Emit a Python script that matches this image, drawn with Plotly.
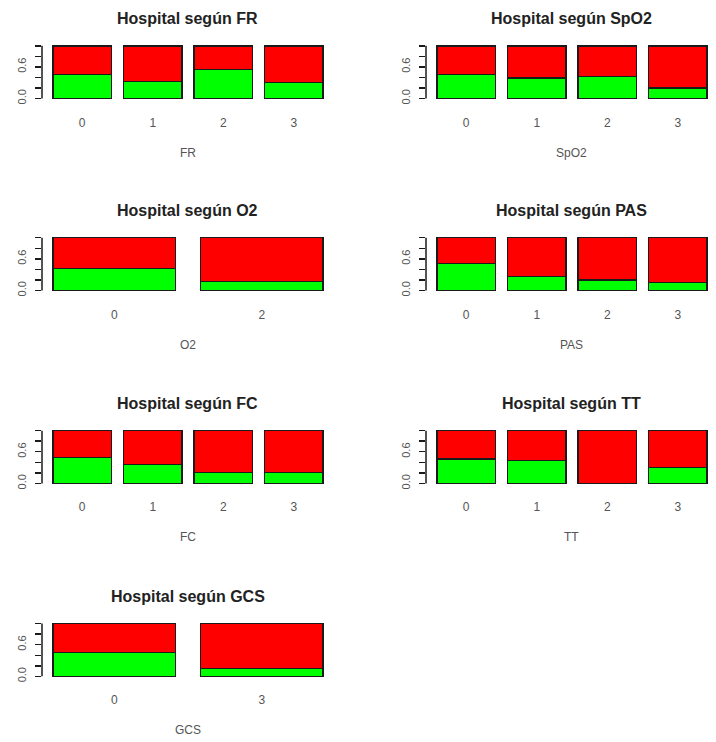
import plotly.graph_objects as go

# ---------------- data (proportions) ----------------
fr_cats = ["0", "1", "2", "3"]
fr_green = [0.45, 0.32, 0.55, 0.30]
fr_red = [0.55, 0.68, 0.45, 0.70]

spo2_cats = ["0", "1", "2", "3"]
spo2_green = [0.45, 0.39, 0.42, 0.20]
spo2_red = [0.55, 0.61, 0.58, 0.80]

o2_cats = ["0", "2"]
o2_green = [0.42, 0.17]
o2_red = [0.58, 0.83]

pas_cats = ["0", "1", "2", "3"]
pas_green = [0.51, 0.26, 0.20, 0.15]
pas_red = [0.49, 0.74, 0.80, 0.85]

fc_cats = ["0", "1", "2", "3"]
fc_green = [0.49, 0.36, 0.21, 0.21]
fc_red = [0.51, 0.64, 0.79, 0.79]

tt_cats = ["0", "1", "2", "3"]
tt_green = [0.46, 0.43, 0.00, 0.30]
tt_red = [0.54, 0.57, 1.00, 0.70]

gcs_cats = ["0", "3"]
gcs_green = [0.45, 0.15]
gcs_red = [0.55, 0.85]

panels = [
    ("FR", fr_cats, fr_green, fr_red),
    ("SpO2", spo2_cats, spo2_green, spo2_red),
    ("O2", o2_cats, o2_green, o2_red),
    ("PAS", pas_cats, pas_green, pas_red),
    ("FC", fc_cats, fc_green, fc_red),
    ("TT", tt_cats, tt_green, tt_red),
    ("GCS", gcs_cats, gcs_green, gcs_red),
]

y_tickvals = [0, 0.2, 0.4, 0.6, 0.8, 1.0]
y_ticktext = ["0.0", "", "", "0.6", "", ""]

# ---------------- layout constants (pixels) ----------------
W, H = 716, 742
row_top = [46, 239, 433, 627]      # pixel y of value 1.0
unit_h = 53                        # pixels from 1.0 to 0.0
col_left = [42, 426]
col_right = [334, 716]
full_w = 292                       # full R plot region width

FONT = "Liberation Sans, Arial, Helvetica, sans-serif"
GREEN = "#00FF00"
RED = "#FF0000"
EDGE = "#1a1a1a"
TXT = "#555555"

fig = go.Figure()
layout = dict(
    width=W, height=H,
    margin=dict(l=0, r=0, t=0, b=0),
    paper_bgcolor="white", plot_bgcolor="white",
    barmode="stack", showlegend=False,
    font=dict(family=FONT, color=TXT),
)
annotations = []
shapes = []

for i, (name, cats, green, red) in enumerate(panels):
    r, c = divmod(i, 2)
    n = len(cats)
    xs = [0.7 + 1.2 * k for k in range(n)]
    span = 1.2 * n - 0.2
    lo = 0.2 - 0.04 * span
    hi = 1.2 * n + 0.04 * span
    px_l, px_r = col_left[c], col_right[c]
    # right column region is cut by the figure edge
    hi = lo + (hi - lo) * (px_r - px_l) / full_w

    t = row_top[r]
    py_top = t - 0.04 * unit_h
    py_bot = t + unit_h + 0.04 * unit_h

    ax = "" if i == 0 else str(i + 1)
    xa, ya = "x" + ax, "y" + ax

    fig.add_trace(go.Bar(x=xs, y=green, width=1.0, xaxis=xa, yaxis=ya,
                         marker=dict(color=GREEN, line=dict(color=EDGE, width=1.5)),
                         hoverinfo="skip"))
    fig.add_trace(go.Bar(x=xs, y=red, width=1.0, xaxis=xa, yaxis=ya,
                         marker=dict(color=RED, line=dict(color=EDGE, width=1.5)),
                         hoverinfo="skip"))

    layout["xaxis" + ax] = dict(
        domain=[px_l / W, px_r / W], range=[lo, hi], anchor=ya,
        tickvals=xs, ticktext=cats, ticks="", showline=False,
        showgrid=False, zeroline=False, fixedrange=True,
        tickfont=dict(size=12, color=TXT, family=FONT),
        ticklabelstandoff=13,
    )
    layout["yaxis" + ax] = dict(
        domain=[1 - py_bot / H, 1 - py_top / H], range=[-0.04, 1.04], anchor=xa,
        tickvals=y_tickvals, ticktext=y_ticktext, ticks="outside",
        ticklen=6, tickwidth=1.5, tickcolor=EDGE, tickangle=-90,
        showline=False, showgrid=False, zeroline=False, fixedrange=True,
        tickfont=dict(size=11, color=TXT, family=FONT),
        ticklabelstandoff=5,
    )
    shapes.append(dict(type="line", xref=xa + " domain", yref=ya,
                       x0=0, x1=0, y0=0, y1=1,
                       line=dict(color=EDGE, width=1.5)))
    annotations.append(dict(text="<b>Hospital según " + name + "</b>",
                            xref=xa + " domain", yref=ya + " domain",
                            x=0.5, y=1, yshift=25, showarrow=False,
                            xanchor="center", yanchor="middle",
                            font=dict(size=16, color="#222222", family=FONT)))
    annotations.append(dict(text=name,
                            xref=xa + " domain", yref=ya + " domain",
                            x=0.5, y=0, yshift=-52, showarrow=False,
                            xanchor="center", yanchor="middle",
                            font=dict(size=12, color=TXT, family=FONT)))

layout["annotations"] = annotations
layout["shapes"] = shapes
fig.update_layout(**layout)
fig.write_html("out.html",
               config={"displayModeBar": False, "staticPlot": True},
               post_script="document.body.style.margin='0';document.body.style.overflow='hidden';")
